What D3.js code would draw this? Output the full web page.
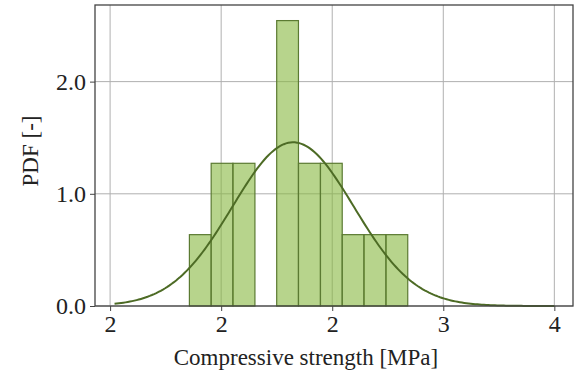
<!DOCTYPE html>
<html><head><meta charset="utf-8">
<script src="https://cdn.jsdelivr.net/npm/d3@7"></script>
<style>body{margin:0;background:#fff}svg{display:block}</style>
</head><body>
<script>
const binEdges = [1.857, 1.955, 2.053, 2.152, 2.250, 2.348, 2.447, 2.545, 2.643, 2.742, 2.840];
const densities = [0.636, 1.272, 1.272, 0, 2.544, 1.272, 1.272, 0.636, 0.636, 0.636];
const xTicks = [1.5, 2.0, 2.5, 3.0, 3.5];
const xTickLabels = ["2", "2", "2", "3", "4"];
const yTicks = [0, 1, 2];
const yTickLabels = ["0.0", "1.0", "2.0"];
const normMean = 2.324, normSd = 0.2734;
const curveRange = [1.52, 3.5];

const W = 574, H = 379;
const m = {l: 95, r: 1, t: 5, b: 73};
const svg = d3.select("body").append("svg").attr("width", W).attr("height", H);
const x = d3.scaleLinear().domain([1.432, 3.584]).range([m.l, W - m.r]);
const y = d3.scaleLinear().domain([0, 2.683]).range([H - m.b, m.t]);
const font = "'Liberation Serif', 'Times New Roman', serif";

// grid
const g = svg.append("g");
g.selectAll("line.vx").data(xTicks).join("line")
  .attr("x1", d => x(d)).attr("x2", d => x(d)).attr("y1", m.t).attr("y2", H - m.b)
  .attr("stroke", "#b0b0b0").attr("stroke-width", 1);
g.selectAll("line.hy").data(yTicks).join("line")
  .attr("y1", d => y(d)).attr("y2", d => y(d)).attr("x1", m.l).attr("x2", W - m.r)
  .attr("stroke", "#b0b0b0").attr("stroke-width", 1);

// bars
const bins = densities.map((v, i) => ({x0: binEdges[i], x1: binEdges[i + 1], v}));
svg.append("g").selectAll("rect").data(bins.filter(b => b.v > 0)).join("rect")
  .attr("x", d => x(d.x0)).attr("width", d => x(d.x1) - x(d.x0))
  .attr("y", d => y(d.v)).attr("height", d => y(0) - y(d.v))
  .attr("fill", "rgb(135,183,63)").attr("fill-opacity", 0.6)
  .attr("stroke", "#5b7a32").attr("stroke-width", 1.2);

// normal curve
const pts = d3.range(0, 201).map(i => {
  const xv = curveRange[0] + (curveRange[1] - curveRange[0]) * i / 200;
  const z = (xv - normMean) / normSd;
  return [xv, Math.exp(-0.5 * z * z) / (normSd * Math.sqrt(2 * Math.PI))];
});
svg.append("path").datum(pts)
  .attr("d", d3.line().x(d => x(d[0])).y(d => y(d[1])))
  .attr("fill", "none").attr("stroke", "#4d6b25").attr("stroke-width", 2);

// axes
const xAxis = d3.axisBottom(x).tickValues(xTicks).tickFormat((d, i) => xTickLabels[i]).tickSize(5).tickPadding(4);
const yAxis = d3.axisLeft(y).tickValues(yTicks).tickFormat((d, i) => yTickLabels[i]).tickSize(5).tickPadding(4);
const ax = svg.append("g").attr("transform", `translate(0,${H - m.b})`).call(xAxis);
const ay = svg.append("g").attr("transform", `translate(${m.l},0)`).call(yAxis);
[ax, ay].forEach(a => {
  a.select(".domain").remove();
  a.selectAll(".tick line").attr("stroke", "#444").attr("stroke-width", 1);
  a.selectAll(".tick text").attr("font-family", font).attr("font-size", 24).attr("fill", "#222");
});

// frame
svg.append("rect").attr("x", m.l).attr("y", m.t).attr("width", W - m.r - m.l).attr("height", H - m.b - m.t)
  .attr("fill", "none").attr("stroke", "#444").attr("stroke-width", 1.3);

svg.append("text").attr("x", 306).attr("y", 365)
  .attr("text-anchor", "middle").attr("font-family", font).attr("font-size", 23).attr("fill", "#222")
  .text("Compressive strength [MPa]");
svg.append("text").attr("transform", `translate(38,151) rotate(-90)`)
  .attr("text-anchor", "middle").attr("font-family", font).attr("font-size", 23).attr("fill", "#222")
  .text("PDF [-]");
</script>
</body></html>
